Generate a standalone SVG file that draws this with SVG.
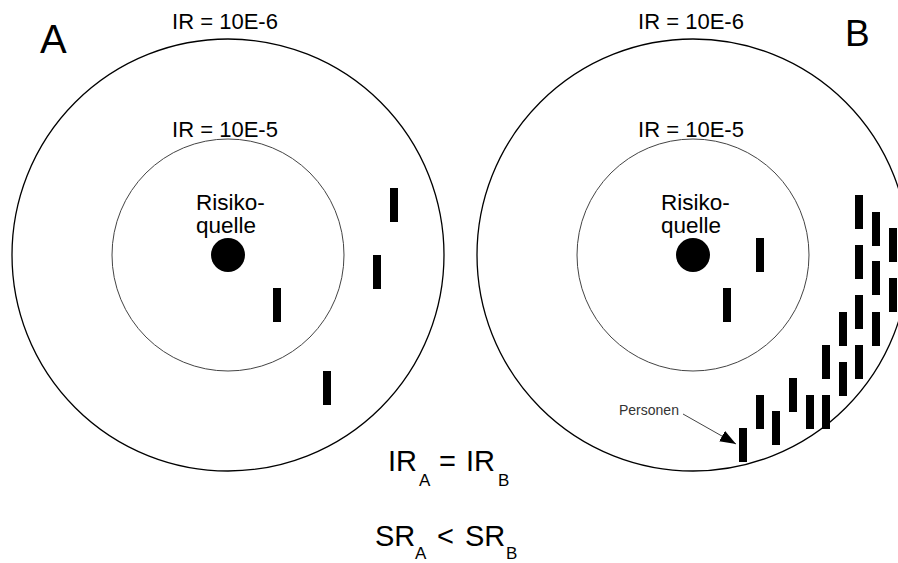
<svg xmlns="http://www.w3.org/2000/svg" width="898" height="563" viewBox="0 0 898 563">
  <defs>
    <style>
      text { font-family: "Liberation Sans", Arial, sans-serif; fill: #000; }
      .outer { fill: none; stroke: #000; stroke-width: 1.3; }
      .inner { fill: none; stroke: #444; stroke-width: 1; }
      .src { fill: #000; }
      .p { fill: #000; }
      .lbl { font-size: 22px; text-anchor: middle; }
      .rq { font-size: 22.5px; }
      .big { font-size: 29px; }
      .sub { font-size: 17px; }
      .arrow { stroke: #444; stroke-width: 1; fill: none; }
    </style>
    <rect id="person" width="8" height="34"/>
    <marker id="head" markerUnits="userSpaceOnUse" markerWidth="18" markerHeight="12" refX="16" refY="6" orient="auto">
      <path d="M0,0 L16,6 L0,12 Z" fill="#000"/>
    </marker>
  </defs>

  <!-- Panel A -->
  <g id="panelA">
    <text x="40" y="53" style="font-size:40px">A</text>
    <circle class="outer" cx="228" cy="255" r="216"/>
    <circle class="inner" cx="228" cy="255" r="116"/>
    <text class="lbl" x="225" y="29">IR = 10E-6</text>
    <text class="lbl" x="225" y="137">IR = 10E-5</text>
    <g id="sourceA">
      <text class="rq" x="196" y="210">Risiko-</text>
      <text class="rq" x="196" y="233">quelle</text>
      <circle class="src" cx="228" cy="255" r="17"/>
    </g>
    <g id="personsA" class="p">
      <use href="#person" x="390" y="188"/>
      <use href="#person" x="373" y="255"/>
      <use href="#person" x="273" y="288"/>
      <use href="#person" x="323" y="371"/>
    </g>
  </g>

  <!-- Panel B -->
  <g id="panelB">
    <text x="845" y="46" style="font-size:37px">B</text>
    <circle class="outer" cx="693" cy="255" r="216"/>
    <circle class="inner" cx="693" cy="255" r="116"/>
    <text class="lbl" x="691" y="29">IR = 10E-6</text>
    <text class="lbl" x="691" y="137">IR = 10E-5</text>
    <g id="sourceB">
      <text class="rq" x="661" y="210">Risiko-</text>
      <text class="rq" x="661" y="233">quelle</text>
      <circle class="src" cx="693" cy="255" r="17"/>
    </g>
    <g id="personsB" class="p">
      <use href="#person" x="756" y="238"/>
      <use href="#person" x="723" y="288"/>
      <use href="#person" x="739" y="428"/>
      <use href="#person" x="756" y="395"/>
      <use href="#person" x="772" y="411"/>
      <use href="#person" x="789" y="378"/>
      <use href="#person" x="806" y="395"/>
      <use href="#person" x="822" y="345"/>
      <use href="#person" x="822" y="395"/>
      <use href="#person" x="839" y="312"/>
      <use href="#person" x="839" y="362"/>
      <use href="#person" x="855" y="195"/>
      <use href="#person" x="855" y="245"/>
      <use href="#person" x="855" y="295"/>
      <use href="#person" x="855" y="345"/>
      <use href="#person" x="872" y="212"/>
      <use href="#person" x="872" y="261"/>
      <use href="#person" x="872" y="312"/>
      <use href="#person" x="889" y="228"/>
      <use href="#person" x="889" y="278"/>
    </g>
    <text id="personenLabel" x="619" y="415" style="font-size:14px;fill:#333">Personen</text>
  </g>

  <!-- Pointer from the label to a person -->
  <g id="connectors">
    <line class="arrow" x1="683" y1="414" x2="736" y2="444" marker-end="url(#head)"/>
  </g>

  <!-- Comparison of individual and societal risk -->
  <g id="formulas">
    <text class="big" x="388" y="471">IR</text>
    <text class="sub" x="419" y="486">A</text>
    <text class="big" x="439" y="471">=</text>
    <text class="big" x="466" y="471">IR</text>
    <text class="sub" x="498" y="486">B</text>
    <text class="big" x="375" y="546">SR</text>
    <text class="sub" x="415" y="559">A</text>
    <text class="big" x="437" y="546">&lt;</text>
    <text class="big" x="465" y="546">SR</text>
    <text class="sub" x="506" y="559">B</text>
  </g>
</svg>
